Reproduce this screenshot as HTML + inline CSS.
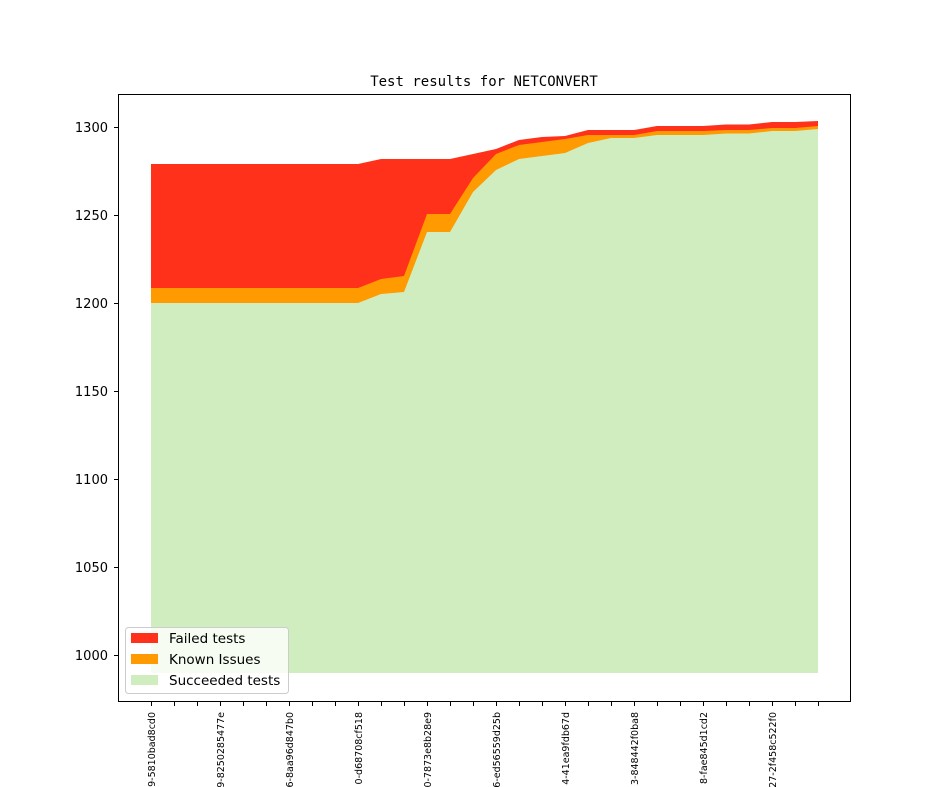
<!DOCTYPE html>
<html><head><meta charset="utf-8"><style>html,body{margin:0;background:#fff;width:944px;height:787px;overflow:hidden}svg{display:block}</style></head>
<body>
<svg width="944" height="787" xmlns="http://www.w3.org/2000/svg" font-family="DejaVu Sans, Liberation Sans, sans-serif" style="overflow:hidden">
<rect width="944" height="787" fill="#fff"/>
<text x="484" y="86" text-anchor="middle" font-family="DejaVu Sans Mono, Liberation Mono, monospace" font-size="14">Test results for NETCONVERT</text>
<g id="layers">
<polygon fill="#ff311a" points="151,164 358,164 381,159 450,159 473,154 496,149 519,140 542,137 565,136 588,130 634,130 657,126 703,126 726,124.5 749,124.5 772,122 795,122 818,121 818,673 151,673"/>
<polygon fill="#ff9a00" points="151,288 358,288 381,279 404,276 427,214 450,214 473,178 496,154 519,145 542,142 565,139 588,135 634,135 657,131 703,131 726,130 749,130 772,128 795,128 818,126 818,673 151,673"/>
<polygon fill="#cfedbe" points="151,303 358,303 381,294 404,292 427,232 450,232 473,192 496,170 519,159 542,156 565,153 588,143 611,138 634,138 657,135 703,135 726,133.5 749,133.5 772,131 795,131 818,129 818,673 151,673"/>
</g>
<rect x="118.5" y="94.5" width="732" height="607" fill="none" stroke="#000" stroke-width="1"/>
<g stroke="#000" stroke-width="1">
<line x1="114" y1="127.5" x2="118" y2="127.5"/>
<line x1="114" y1="215.5" x2="118" y2="215.5"/>
<line x1="114" y1="303.5" x2="118" y2="303.5"/>
<line x1="114" y1="391.5" x2="118" y2="391.5"/>
<line x1="114" y1="479.5" x2="118" y2="479.5"/>
<line x1="114" y1="567.5" x2="118" y2="567.5"/>
<line x1="114" y1="655.5" x2="118" y2="655.5"/>
</g>
<g font-size="13" text-anchor="end" fill="#000">
<text x="108" y="132">1300</text>
<text x="108" y="220">1250</text>
<text x="108" y="308">1200</text>
<text x="108" y="396">1150</text>
<text x="108" y="484">1100</text>
<text x="108" y="572">1050</text>
<text x="108" y="660">1000</text>
</g>
<g stroke="#000" stroke-width="1">
<line x1="151.5" y1="702" x2="151.5" y2="706"/><line x1="174.5" y1="702" x2="174.5" y2="706"/><line x1="197.5" y1="702" x2="197.5" y2="706"/><line x1="220.5" y1="702" x2="220.5" y2="706"/><line x1="243.5" y1="702" x2="243.5" y2="706"/><line x1="266.5" y1="702" x2="266.5" y2="706"/><line x1="289.5" y1="702" x2="289.5" y2="706"/><line x1="312.5" y1="702" x2="312.5" y2="706"/><line x1="335.5" y1="702" x2="335.5" y2="706"/><line x1="358.5" y1="702" x2="358.5" y2="706"/><line x1="381.5" y1="702" x2="381.5" y2="706"/><line x1="404.5" y1="702" x2="404.5" y2="706"/><line x1="427.5" y1="702" x2="427.5" y2="706"/><line x1="450.5" y1="702" x2="450.5" y2="706"/><line x1="473.5" y1="702" x2="473.5" y2="706"/><line x1="496.5" y1="702" x2="496.5" y2="706"/><line x1="519.5" y1="702" x2="519.5" y2="706"/><line x1="542.5" y1="702" x2="542.5" y2="706"/><line x1="565.5" y1="702" x2="565.5" y2="706"/><line x1="588.5" y1="702" x2="588.5" y2="706"/><line x1="611.5" y1="702" x2="611.5" y2="706"/><line x1="634.5" y1="702" x2="634.5" y2="706"/><line x1="657.5" y1="702" x2="657.5" y2="706"/><line x1="680.5" y1="702" x2="680.5" y2="706"/><line x1="703.5" y1="702" x2="703.5" y2="706"/><line x1="726.5" y1="702" x2="726.5" y2="706"/><line x1="749.5" y1="702" x2="749.5" y2="706"/><line x1="772.5" y1="702" x2="772.5" y2="706"/><line x1="795.5" y1="702" x2="795.5" y2="706"/><line x1="818.5" y1="702" x2="818.5" y2="706"/>
</g>
<g font-size="9.5" text-anchor="end" fill="#000">
<text transform="translate(155,712) rotate(-90)">9-5810bad8cd0</text>
<text transform="translate(224,712) rotate(-90)">9-8250285477e</text>
<text transform="translate(293,712) rotate(-90)">6-8aa96d847b0</text>
<text transform="translate(362,712) rotate(-90)">0-d68708cf518</text>
<text transform="translate(431,712) rotate(-90)">0-7873e8b28e9</text>
<text transform="translate(500,712) rotate(-90)">6-ed56559d25b</text>
<text transform="translate(569,712) rotate(-90)">4-41ea9fdb67d</text>
<text transform="translate(638,712) rotate(-90)">3-848442f0ba8</text>
<text transform="translate(707,712) rotate(-90)">8-fae845d1cd2</text>
<text transform="translate(776,712) rotate(-90)">27-2f458c522f0</text>
</g>
<rect x="125.5" y="627.5" width="163" height="66" rx="3" fill="#fff" fill-opacity="0.8" stroke="#ccc" stroke-width="1"/>
<rect x="131" y="633" width="27" height="10" fill="#ff311a"/>
<rect x="131" y="654" width="27" height="10" fill="#ff9a00"/>
<rect x="131" y="675" width="27" height="10" fill="#cfedbe"/>
<g font-size="13.5" fill="#000">
<text x="169" y="643">Failed tests</text>
<text x="169" y="664">Known Issues</text>
<text x="169" y="685">Succeeded tests</text>
</g>
</svg>
</body></html>
